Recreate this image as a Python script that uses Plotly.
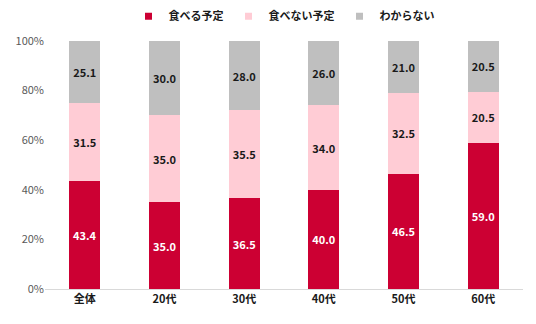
import plotly.graph_objects as go

categories = ["全体", "20代", "30代", "40代", "50代", "60代"]
series_names = ["食べる予定", "食べない予定", "わからない"]
eat = [43.4, 35.0, 36.5, 40.0, 46.5, 59.0]
not_eat = [31.5, 35.0, 35.5, 34.0, 32.5, 20.5]
unknown = [25.1, 30.0, 28.0, 26.0, 21.0, 20.5]
tick_vals = [0, 20, 40, 60, 80, 100]
tick_text = ["0%", "20%", "40%", "60%", "80%", "100%"]

colors = ["#CC0033", "#FFCCD5", "#BFBFBF"]
text_colors = ["#FFFFFF", "#1a1a1a", "#1a1a1a"]

fig = go.Figure()
for name, vals, c, tc in zip(series_names, [eat, not_eat, unknown], colors, text_colors):
    fig.add_trace(go.Bar(
        x=categories, y=vals, name=name, legendgroup=name, showlegend=False,
        marker=dict(color=c, line=dict(width=0)),
        text=[f"{v:.1f}" for v in vals],
        textposition="inside", insidetextanchor="middle",
        textfont=dict(color=tc, size=11, family="Noto Sans CJK JP"),
        texttemplate="<b>%{text}</b>",
        cliponaxis=False,
    ))
# legend entries with small square markers
for name, c in zip(series_names, colors):
    fig.add_trace(go.Scatter(
        x=[None], y=[None], mode="markers", name=name, legendgroup=name,
        marker=dict(symbol="square", size=7, color=c), showlegend=True,
    ))

fig.update_layout(
    barmode="stack", bargap=0.61,
    width=536, height=324,
    margin=dict(l=45, r=13, t=41, b=35, autoexpand=False),
    plot_bgcolor="white", paper_bgcolor="white",
    font=dict(family="Noto Sans CJK JP", size=11, color="#595959"),
    showlegend=True,
    legend=dict(orientation="h", x=0.5, xanchor="center", yref="container",
                y=0.95, yanchor="middle",
                font=dict(size=11, color="#1a1a1a", weight="bold"), traceorder="normal",
                itemwidth=30, tracegroupgap=0),
    uniformtext=dict(minsize=8, mode="show"),
)
fig.update_xaxes(type="category", categoryorder="array", categoryarray=categories,
                 showline=True, linecolor="#D9D9D9", linewidth=1, ticks="", automargin=False,
                 tickfont=dict(size=11, color="#1a1a1a", weight="bold"))
fig.update_yaxes(range=[0, 100], tickmode="array", tickvals=tick_vals, ticktext=tick_text,
                 showgrid=False, zeroline=False, showline=False, automargin=False,
                 tickfont=dict(size=11, color="#595959"))

fig.write_html("out.html")
